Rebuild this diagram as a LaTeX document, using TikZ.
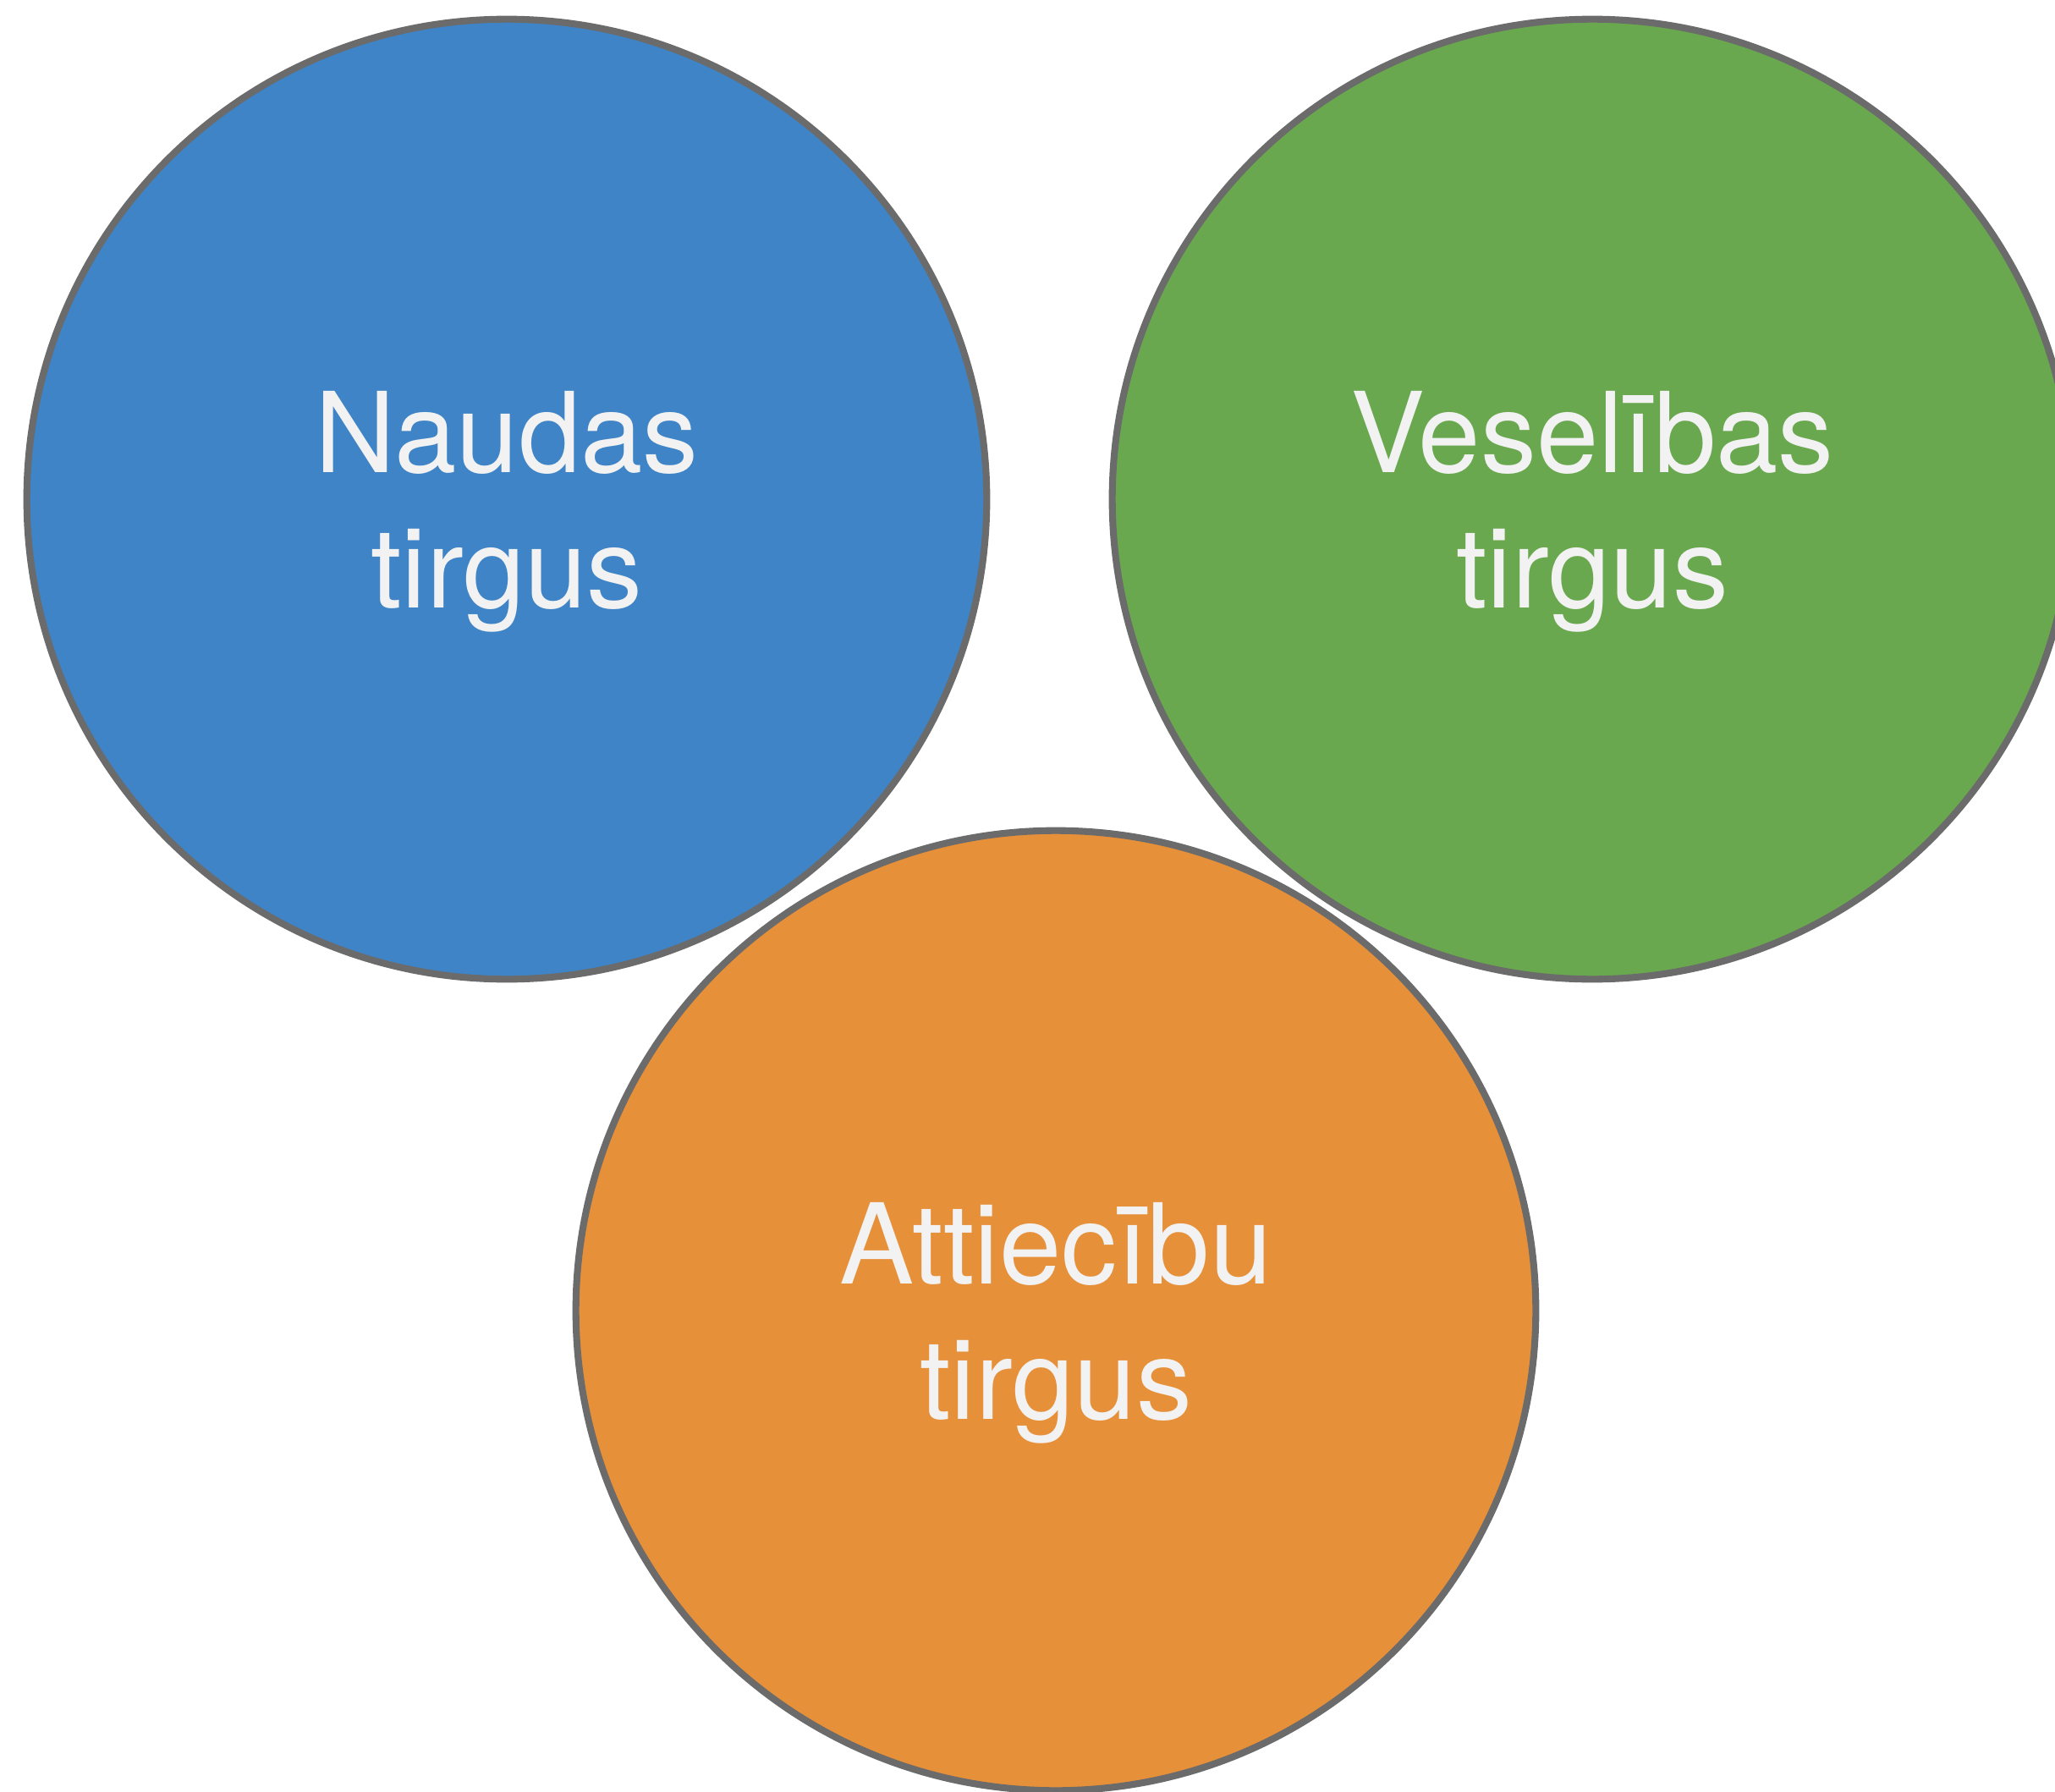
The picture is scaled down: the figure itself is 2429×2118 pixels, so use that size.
\documentclass[tikz,border=0pt]{standalone}
\usepackage{fontspec}
\setmainfont{TeX Gyre Heros}
\definecolor{cblue}{HTML}{3F84C6}
\definecolor{cgreen}{HTML}{6AA84F}
\definecolor{corange}{HTML}{E6903A}
\definecolor{cstroke}{HTML}{6B6B6B}
\definecolor{ctext}{HTML}{F2F2F2}
\begin{document}
\begin{tikzpicture}[x=0.01cm,y=-0.01cm,
  market/.style={circle, draw=cstroke, line width=2.3pt, minimum size=11.34cm,
    inner sep=0pt, outer sep=0pt},
  marketlabel/.style={text=ctext, align=center, inner sep=0pt,
    font=\fontsize{37.5pt}{45.5pt}\selectfont}]
\useasboundingbox[fill=white] (0,0) rectangle (2429,2118);
\begin{scope}
\clip (0,0) rectangle (2429,2118);
\node[market, fill=cblue] (money) at (599,590) {};
\node[market, fill=cgreen] (health) at (1882,590) {};
\node[market, fill=corange] (relations) at (1248,1549) {};
\node[marketlabel] (moneytext) at ([yshift=-0.15cm]money.center) {Naudas\\tirgus};
\node[marketlabel] (healthtext) at ([yshift=-0.15cm]health.center) {Veselības\\tirgus};
\node[marketlabel] (relationstext) at ([yshift=-0.15cm]relations.center) {Attiecību\\tirgus};
\end{scope}
\end{tikzpicture}
\end{document}
